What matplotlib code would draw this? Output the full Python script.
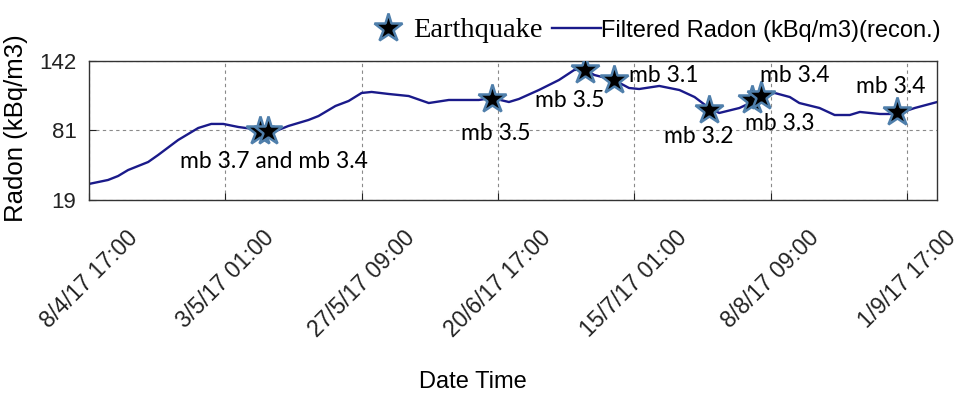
import numpy as np
import pandas as pd
import matplotlib
matplotlib.use("Agg")
import matplotlib.pyplot as plt
import matplotlib.ticker as mticker
import matplotlib.dates as mdates

# radon curve, days after 8/4/17 17:00
start = pd.Timestamp("2017-04-08 17:00")
radon_days = [0, 3.4, 5.19, 6.98, 10.56, 12.34, 15.92, 19.5, 21.83, 23.97, 26.66, 29.34,
              30.6, 32.92, 35.6, 39.18, 40.97, 44.0, 46.34, 48.66, 50.45, 53.5, 57.07,
              60.65, 64.23, 69.6, 71.9, 74.96, 76.75, 80.3, 83.9, 86.6, 88.4, 90.2, 93.7,
              96.4, 98.2, 101.8, 105.4, 108.1, 110.7, 112.5, 116.1, 118.4, 120.0, 122.4,
              125.1, 126.8, 130.4, 133.1, 135.8, 137.6, 141.2, 144.2, 147.4, 151.4]
radon_vals = [33.2, 36.7, 40.2, 45.5, 52.6, 58.8, 72.1, 82.7, 86.3, 86.3, 83.6, 81.8,
              80.9, 79.2, 84.5, 89.8, 93.3, 102.2, 106.6, 113.7, 114.6, 112.8, 111.0,
              104.8, 107.5, 107.5, 109.3, 105.7, 108.4, 116.3, 125.2, 134.0, 134.9, 129.6,
              125.2, 118.1, 117.2, 119.9, 116.3, 110.1, 100.4, 96.0, 100.4, 105.7, 110.1,
              113.7, 110.1, 104.8, 100.4, 94.2, 94.2, 96.9, 95.1, 95.1, 100.4, 105.7]

# earthquakes
quake_days = [30.6, 32.0, 71.9, 88.6, 93.7, 110.7, 118.4, 120.0, 144.2]
quake_vals = [80.1, 80.1, 108.4, 134.0, 125.2, 98.7, 107.5, 111.0, 96.9]

quake_labels = ["mb 3.7 and mb 3.4", "mb 3.5", "mb 3.5", "mb 3.1", "mb 3.2",
                "mb 3.3", "mb 3.4", "mb 3.4"]
label_star = [0, 2, 3, 4, 5, 6, 7, 8]
label_offsets = [(10, -26.6), (2.5, -29.5), (-11, -26.6), (35.6, -1.4), (-7.6, -23.8),
                 (19.8, -21.6), (24.1, 10.1), (-4.7, 13.7)]

yticks = [19, 81, 142]
tick_step = pd.Timedelta(hours=584)
xticks = [start + i * tick_step for i in range(7)]

t_radon = [start + pd.Timedelta(days=d) for d in radon_days]
t_quake = [start + pd.Timedelta(days=d) for d in quake_days]

plt.rcParams['font.family'] = ['Liberation Sans', 'DejaVu Sans']

fig = plt.figure(figsize=(9.63, 3.95), dpi=100)
ax = fig.add_axes([0.0924, 0.4937, 0.8806, 0.3519])

line_col = '#1a1a8a'
ax.plot(t_radon, radon_vals, color=line_col, lw=1.7, label='Filtered Radon (kBq/m3)(recon.)', zorder=2)
ax.plot(t_quake, quake_vals, ls='none', marker='*', ms=21, mfc='black', mec='#4f7fab',
        mew=1.8, label='Earthquake', zorder=3)

for txt, si, off in zip(quake_labels, label_star, label_offsets):
    ax.annotate(txt, (t_quake[si], quake_vals[si]), xytext=off, textcoords='offset points',
                ha='center', va='baseline', fontsize=16.5, family='Lato', zorder=4)

ax.set_xlim(start, start + pd.Timedelta(days=151.37))
ax.set_ylim(19, 142)
ax.set_xticks(xticks)
ax.set_yticks(yticks)
ax.xaxis.set_major_formatter(mticker.FuncFormatter(
    lambda v, p: (lambda d: f"{d.day}/{d.month}/{d:%y %H:%M}")(mdates.num2date(v))))
ax.tick_params(axis='both', direction='in', length=5, width=0.8, colors='#222222')
ax.tick_params(axis='x', pad=19, labelsize=16.5)
ax.tick_params(axis='y', pad=9, labelsize=16)
for lab in ax.get_xticklabels():
    lab.set_rotation(45)
    lab.set_ha('center')
    lab.set_va('top')
for s in ax.spines.values():
    s.set_color('#333333')
    s.set_linewidth(1.0)
ax.grid(True, ls=(0, (3, 3)), color='#8a8a8a', lw=0.8)

ax.set_xlabel('Date Time', fontsize=17)
ax.xaxis.set_label_coords(0.453, -1.23)
ax.set_ylabel('Radon (kBq/m3)', fontsize=18.5)
ax.yaxis.set_label_coords(-0.072, 0.514)

h, l = ax.get_legend_handles_labels()
leg = ax.legend(h[::-1], l[::-1], ncol=2, frameon=False, loc='center right',
                bbox_to_anchor=(0.977, 0.924), bbox_transform=fig.transFigure,
                fontsize=17, handlelength=2.1, handletextpad=0.0, columnspacing=0.4,
                borderpad=0, borderaxespad=0)
texts = leg.get_texts()
texts[0].set_family('Liberation Serif')
texts[0].set_fontsize(20.5)

fig.savefig('out.png', dpi=100)
